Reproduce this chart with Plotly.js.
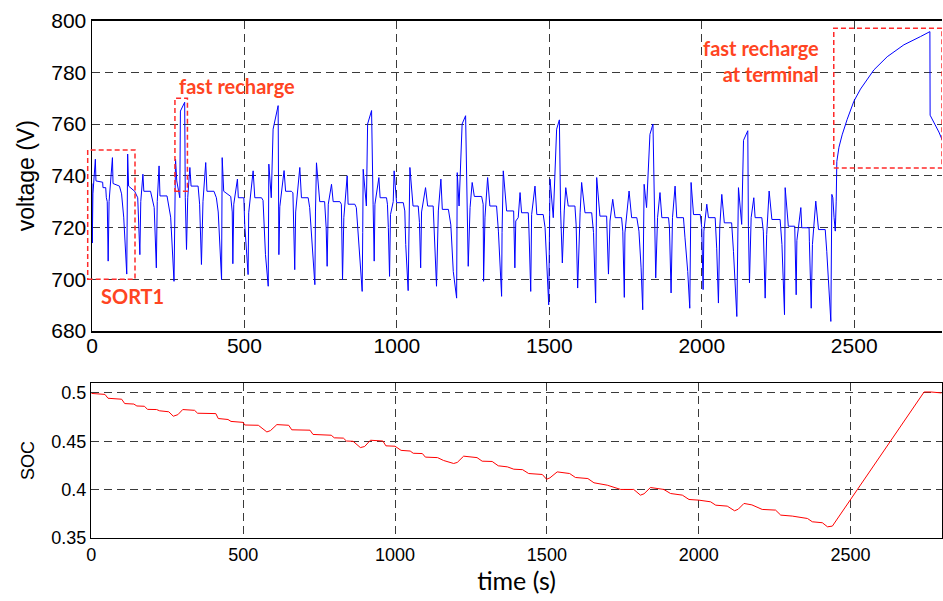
<!DOCTYPE html>
<html>
<head>
<meta charset="utf-8">
<script src="https://cdn.plot.ly/plotly-3.0.1.min.js"></script>
<style>
html,body{margin:0;padding:0;background:#fff;overflow:hidden;}
#chart{width:943px;height:601px;}
</style>
</head>
<body>
<div id="chart"></div>
<script>
// ---- data: [time (s), value] ----
const voltageSamples = [
[0,737],[1,714],[3,733],[11,746.4],[13,738],[35,737.5],[36,735.4],[45,735.4],[47,731.5],[50,730],[53,707],[56,730],[67,747],[69,737],[90,736],[92,735],[97,733],[104,724],[109,715],[114,702],[117,748.4],[120,736],[140,734],[150,731.5],[157,709.5],[160,730],[167,740.6],[170,734],[192,734],[194,733],[204,727.7],[211,704.4],[214,730],[220,743.8],[223,732.2],[246,732.2],[250,729],[258,724],[269,699.2],[272,740],[274,746.4],[278,738],[288,731.5],[290,765],[304,768.4],[306,731.5],[310,711.5],[314,731.5],[321,743.2],[325,736],[348,736],[353,729],[359,705.7],[364,730],[373,745.1],[377,734],[400,734],[408,731.5],[414,726],[425,699.8],[427,747],[432,734],[455,732],[460,726],[462,706],
[465,729],[477,738.7],[480,731.5],[498,731.5],[501,721],[512,701.8],[514,725.7],[528.5,741.9],[534,731.5],[556,731.5],[561,730.5],[565,718.6],[569,709.5],[578,697.3],[580,744.5],[588,731.5],[594,758],[610.5,767.1],[613,709.5],[616,728],[630,742],[635,734],[654,734],[659,733.4],[663,713.4],[665,703.7],[668,726],[681.6,743.2],[687,731.5],[709,731.5],[714,727.7],[720,716],[731,697.9],[733,726],[736.3,745],[747,730],[763,730],[768,720],[771.3,705],[775,729],[785.6,736.7],[791,730],[813,730],[818,729],[821.7,699.8],[826,723.8],[837,740],[840,729],[862,729],[867,727.7],[878,708],[886.2,695.3],[888,718],[889.5,742.5],[900,728.3],[904,760],[917,765.2],[919,746],[922,729],[925.6,707],
[928,729],[941,739.3],[945,731.5],[966,731.5],[969,729],[972,720],[976,701.1],[979,725],[988,730],[991,741.9],[999,729.6],[1021,729.6],[1026,726.4],[1029,713.4],[1032,705.6],[1037,695.6],[1042.7,743.2],[1053,728.3],[1070,728.3],[1074,722],[1078,704.4],[1081,726],[1094,735.4],[1101,728.3],[1119,728.3],[1123,716],[1130,697.3],[1136,726.4],[1144.4,738.7],[1149,727],[1169,727],[1177,721],[1185,703],[1196,692.7],[1198,741.2],[1204,728.3],[1214,760],[1225.4,763.2],[1230,729],[1234,705],[1240,727.7],[1247,737.4],[1254,732],[1278,732],[1283,729],[1284.4,699.2],[1289,724],[1297.6,739.3],[1305,728.3],[1327,728.3],[1333,718.6],[1343.5,693.4],[1345,718],[1349,741.9],[1360,726.4],[1383,726.4],[1387,704.4],
[1390,722.5],[1398,723.8],[1404,733.5],[1409,725.7],[1431,725.7],[1433,720],[1439,695.3],[1442,725],[1453,736],[1459,725],[1480,725],[1486,720],[1491,707.5],[1498,690.1],[1502.3,738.7],[1513,723.8],[1524,758],[1533,761.6],[1537,726.4],[1542.7,706.3],[1549,726.4],[1554,735.4],[1562,728.3],[1584,728.3],[1588,721],[1593,696.6],[1601,725.7],[1606,737.4],[1617,725.7],[1639,725.7],[1645,718],[1648,705.7],[1652,690.8],[1655.4,739.3],[1666,724.4],[1688,724.4],[1692,711],[1694,702],[1699,722.5],[1708,730.9],[1716,723.8],[1737,723.8],[1741,718.6],[1746,693],[1748,717.9],[1761.6,734.1],[1770,723.8],[1787,723.8],[1794,718.6],[1801,704.4],[1806.4,688.2],[1811,736.7],[1819,727.7],[1830,756],[1840,760],
[1845,723.8],[1849,700.5],[1855,723.8],[1863,733.5],[1869,723.8],[1891,723.8],[1894,720],[1899.4,694.7],[1904,723.8],[1912.5,736],[1918,723.8],[1940,723.8],[1945,716],[1954,703],[1960.7,688.8],[1965,737.4],[1973,725],[1995,725],[2000,719.9],[2004.4,696],[2007,718.6],[2016.5,729],[2022,723.8],[2044,723.8],[2049,712],[2054.7,690.8],[2059,720],[2065.7,732.8],[2074,721.8],[2098,721.8],[2104,710.8],[2115,685.6],[2120.4,735.4],[2131,721.2],[2137,753.7],[2151,757.4],[2153,720.5],[2156.5,698.6],[2162,723.8],[2170.7,731.5],[2175,723.8],[2197,723.8],[2202,718.6],[2208,692.7],[2213,717.3],[2221,734.1],[2230,723.1],[2257,723.1],[2263,713.4],[2271.4,686.3],[2273.6,735.4],[2284,720.5],
[2305,720.5],[2309.7,694],[2312,715],[2325,727.7],[2328,719.9],[2352,719.9],[2353,714.7],[2359,688.8],[2363,713.4],[2374,730.2],[2383,719.2],[2405,719.2],[2410,710.8],[2416,696.6],[2423.4,683.7],[2426.7,732.8],[2430,731.5],[2434,723.8],[2438,718.6],[2441,730.2],[2443,745.5],
[2450,751],[2460.5,755.8],[2477,761.8],[2499,768.8],[2520.7,773.5],[2564.5,780.9],[2608.3,786],[2663,790.6],[2717.7,793.8],[2748.3,795.7],[2749,763.4],[2761.4,760.8],[2777.8,756.9],[2791,753.2]
];

const socSamples = [
[0,0.4995],[45,0.4985],[55,0.4945],[100,0.4935],[110,0.489],[140,0.4885],[150,0.4865],[175,0.4862],[185,0.483],[215,0.4828],[225,0.4815],[255,0.4805],[270,0.4759],[285,0.4775],[301,0.4828],[340,0.482],[350,0.479],[410,0.4786],[418,0.4735],[450,0.4725],[460,0.4705],[500,0.4695],[505,0.4668],[550,0.4665],[578,0.4596],[590,0.461],[611,0.4672],[650,0.4665],[660,0.4618],[720,0.4614],[730,0.457],[790,0.4562],[800,0.4535],[830,0.4532],[840,0.4502],[862,0.4499],[886,0.4434],[900,0.4445],[919,0.451],[960,0.4502],[970,0.4452],[1000,0.4448],[1020,0.4405],[1050,0.4398],[1060,0.4375],[1090,0.4372],[1100,0.4335],[1140,0.433],[1160,0.43],[1193,0.4269],[1205,0.428],[1226,0.4345],[1270,0.433],[1287,0.4293],[1320,0.429],[1340,0.4245],[1370,0.4234],[1391,0.421],[1420,0.4205],[1440,0.4165],[1485,0.4155],[1499,0.4106],[1510,0.412],[1534,0.4182],[1575,0.4165],[1594,0.4124],[1635,0.4113],[1655,0.4069],[1699,0.4044],[1743,0.4],[1786,0.4],[1808,0.3941],[1820,0.3955],[1841,0.402],[1885,0.4],[1907,0.3958],[1946,0.3941],[1968,0.3896],[2001,0.3889],[2039,0.3872],[2056,0.3837],[2094,0.3827],[2118,0.3779],[2130,0.3795],[2149,0.3855],[2175,0.384],[2209,0.3793],[2253,0.3786],[2270,0.3734],[2308,0.3724],[2358,0.3699],[2374,0.3665],[2407,0.3655],[2424,0.3613],[2440,0.362],[2742,0.501],[2765,0.501],[2800,0.5]
];

const timeTicks = [0, 500, 1000, 1500, 2000, 2500];
const voltTicks = [680, 700, 720, 740, 760, 780, 800];
const socTicks = [0.35, 0.4, 0.45, 0.5];
const socTickText = ['0.35', '0.4', '0.45', '0.5'];

const timeV = voltageSamples.map(p => p[0]);
const voltage = voltageSamples.map(p => p[1]);
const timeSOC = socSamples.map(p => p[0]);
const soc = socSamples.map(p => p[1]);

// ---- styling ----
const W = 943, H = 601;
const gridStyle = {showgrid: true, gridcolor: '#3a3a3a', gridwidth: 1, griddash: '8px,5px',
  showline: true, linecolor: '#000', linewidth: 1.5, zeroline: false, ticks: ''};
const annotColor = '#ff4422';
const boxLine = {color: '#ff2a2a', width: 1.5, dash: '5px,3px'};

const traces = [
  {x: timeV, y: voltage, type: 'scatter', mode: 'lines', xaxis: 'x', yaxis: 'y',
   line: {color: '#0000ff', width: 1}, hoverinfo: 'skip'},
  {x: timeSOC, y: soc, type: 'scatter', mode: 'lines', xaxis: 'x2', yaxis: 'y2',
   line: {color: '#ff0000', width: 1}, hoverinfo: 'skip'}
];

const layout = {
  width: W, height: H,
  margin: {l: 0, r: 0, t: 0, b: 0},
  paper_bgcolor: '#fff', plot_bgcolor: '#fff',
  showlegend: false,
  font: {family: '"Liberation Sans", Arial, sans-serif', color: '#000'},
  xaxis: Object.assign({}, gridStyle, {
    domain: [92 / W, 942 / W], range: [0, 2788], anchor: 'y', mirror: true,
    tickvals: timeTicks, ticktext: timeTicks.map(String), tickfont: {size: 21},
    ticklabelstandoff: -5
  }),
  yaxis: Object.assign({}, gridStyle, {
    domain: [1 - 331 / H, 1 - 20.5 / H], range: [680, 800], anchor: 'x', mirror: false,
    tickvals: voltTicks, ticktext: voltTicks.map(String), tickfont: {size: 21},
    title: {text: 'voltage (V)', font: {size: 23}, standoff: 10}
  }),
  xaxis2: Object.assign({}, gridStyle, {
    domain: [91.3 / W, 941.7 / W], range: [0, 2800], anchor: 'y2', mirror: true,
    tickvals: timeTicks, ticktext: timeTicks.map(String), tickfont: {size: 18},
    title: {text: 'time (s)', font: {family: 'Lato, "Open Sans", sans-serif', size: 25}, standoff: 6}
  }),
  yaxis2: Object.assign({}, gridStyle, {
    domain: [1 - 537.7 / H, 1 - 383.3 / H], range: [0.35, 0.51], anchor: 'x2', mirror: true,
    tickvals: socTicks, ticktext: socTickText, tickfont: {size: 18},
    title: {text: 'SOC', font: {size: 18}, standoff: 12}
  }),
  shapes: [
    {type: 'rect', xref: 'paper', yref: 'y', x0: 87.7 / W, x1: 135 / W, y0: 700, y1: 750, line: boxLine, layer: 'above'},
    {type: 'rect', xref: 'x', yref: 'y', x0: 272, x1: 313, y0: 734, y1: 770, line: boxLine, layer: 'above'},
    {type: 'rect', xref: 'x', yref: 'y', x0: 2433, x1: 2788, y0: 743, y1: 797, line: boxLine, layer: 'above'}
  ],
  annotations: [
    {xref: 'x', yref: 'y', x: 278, y: 774.8, text: '<b>fast recharge</b>', showarrow: false,
     xanchor: 'left', yanchor: 'middle', font: {family: 'Lato, sans-serif', size: 20, color: annotColor}},
    {xref: 'x', yref: 'y', x: 23, y: 693.5, text: '<b>SORT1</b>', showarrow: false,
     xanchor: 'left', yanchor: 'middle', font: {family: 'Lato, sans-serif', size: 20, color: annotColor}},
    {xref: 'x', yref: 'y', x: 2392, y: 784.4, text: '<b>fast recharge<br>at terminal</b>', showarrow: false,
     xanchor: 'right', yanchor: 'middle', align: 'right', font: {family: 'Lato, sans-serif', size: 20, color: annotColor}}
  ]
};

Plotly.newPlot('chart', traces, layout, {staticPlot: true, displayModeBar: false});
</script>
</body>
</html>
